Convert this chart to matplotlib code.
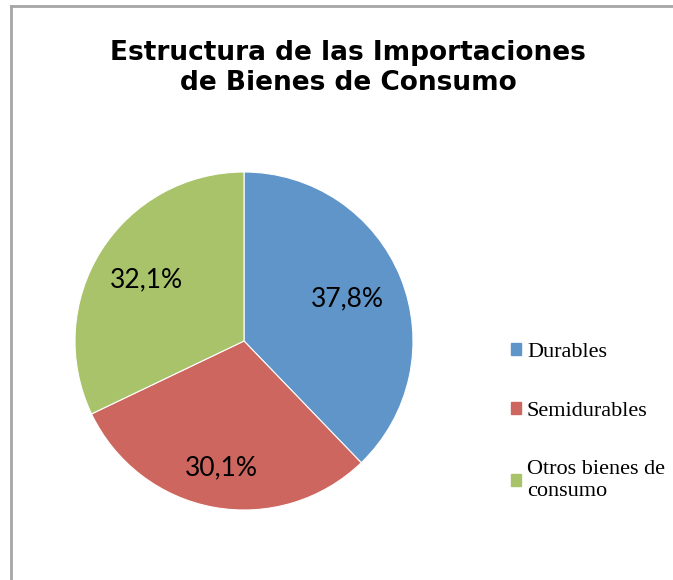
import matplotlib.pyplot as plt
import matplotlib.patches as mpatches
import matplotlib.lines as mlines
import numpy as np

# datos
categorias = ['Durables', 'Semidurables', 'Otros bienes de\nconsumo']
valores = [37.8, 30.1, 32.1]
colores = ['#5F95C9', '#CD665F', '#A9C36A']

titulo = 'Estructura de las Importaciones\nde Bienes de Consumo'

fig = plt.figure(figsize=(6.73, 5.8), dpi=100)

# marco del grafico (como en Excel)
fig.add_artist(mlines.Line2D([11/673, 11/673], [0, 1 - 6/580], color='#A6A6A6', lw=2))
fig.add_artist(mlines.Line2D([11/673, 1], [1 - 6/580, 1 - 6/580], color='#A6A6A6', lw=2))

cx, cy, r = 244/673, 1 - 341/580, 169
ax = fig.add_axes([cx - r/673, cy - r/580, 2*r/673, 2*r/580])

wedges, _ = ax.pie(valores, colors=colores, startangle=90, counterclock=False,
                   radius=1, wedgeprops=dict(linewidth=0.8, edgecolor='white'))
ax.set_xlim(-1, 1)
ax.set_ylim(-1, 1)
ax.set_aspect('equal')

# etiquetas de porcentaje
dist = [0.66, 0.76, 0.68]
for w, v, d in zip(wedges, valores, dist):
    ang = np.deg2rad((w.theta1 + w.theta2) / 2)
    ax.text(d*np.cos(ang), d*np.sin(ang), ('%.1f%%' % v).replace('.', ','),
            ha='center', va='center', fontsize=19, family='Lato', color='black')

fig.text(348/673, 1 - 68/580, titulo, ha='center', va='center', fontsize=19,
         fontweight='bold', family='DejaVu Sans', linespacing=1.2)

handles = [mpatches.Patch(color=c, label=l) for c, l in zip(colores, categorias)]
leg = fig.legend(handles=handles, loc='upper left', bbox_to_anchor=(511/673, 1 - 343/580),
                 frameon=False, prop={'family': 'Liberation Serif', 'size': 16},
                 handlelength=0.45, handleheight=0.45, handletextpad=0.27,
                 labelspacing=1.78, borderpad=0, borderaxespad=0)

fig.savefig('out.png', dpi=100, facecolor='white')
